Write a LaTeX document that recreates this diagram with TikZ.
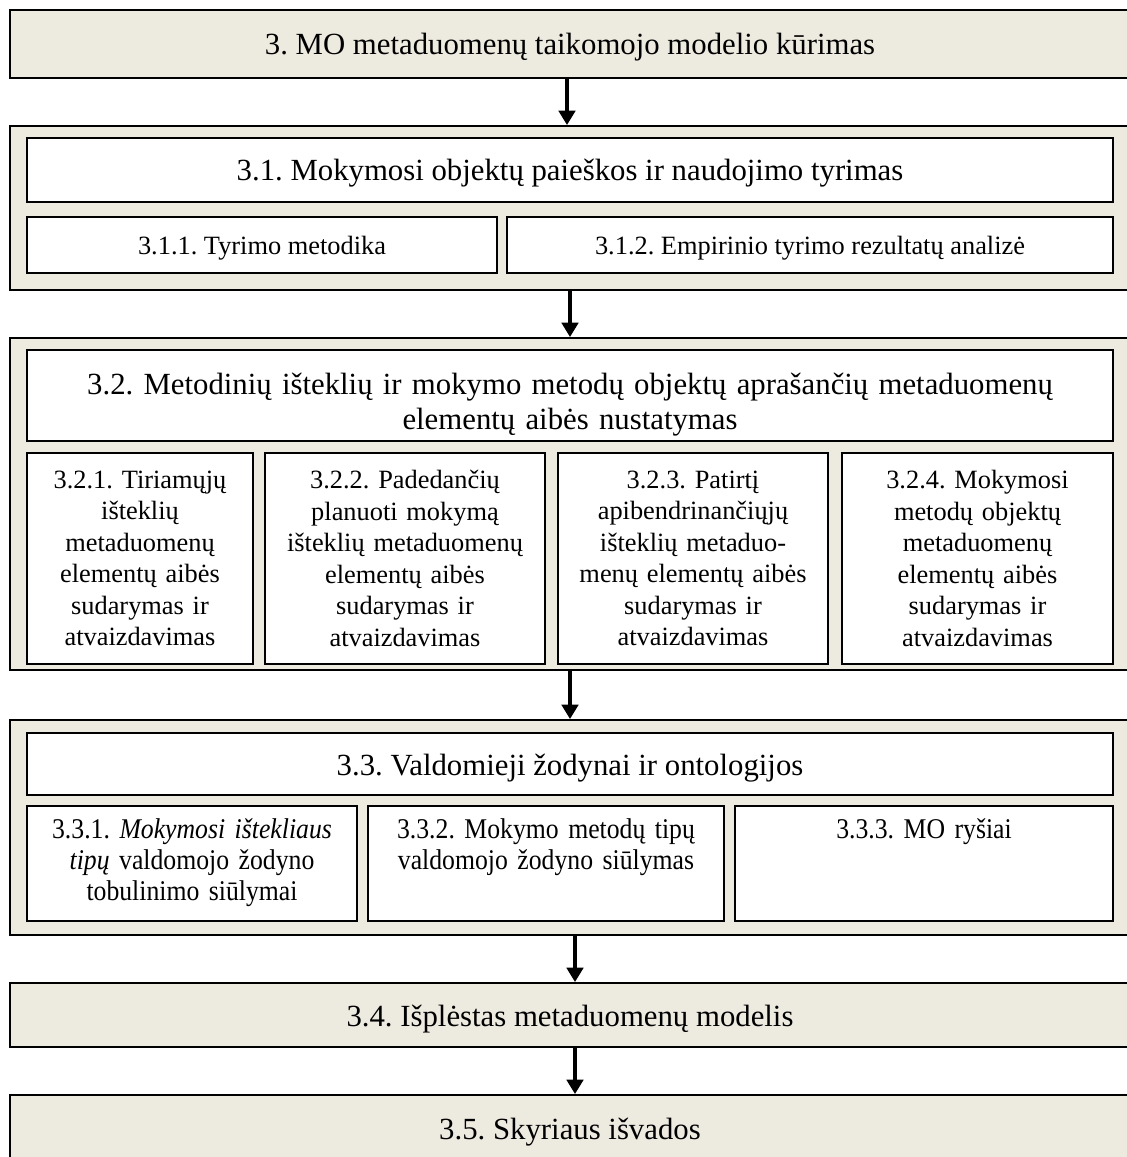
\documentclass[tikz,border=0pt]{standalone}
\usepackage{fontspec}
\setmainfont{Liberation Serif}
\newfontfamily\narrowfont[FakeStretch=0.9]{Liberation Serif}
\usetikzlibrary{arrows.meta}
\frenchspacing

\definecolor{boxbeige}{RGB}{237,234,224}
\newlength{\pxu}
\setlength{\pxu}{0.455pt}

\tikzset{
  big/.style={font=\fontsize{14}{16}\selectfont},
  bigline/.style={big,text height=11pt,text depth=1pt},
  small/.style={font=\fontsize{12}{14.3}\selectfont},
  smallline/.style={small,text height=9pt,text depth=0.8pt},
  narrow/.style={font=\fontsize{13}{14.3}\selectfont\narrowfont},
}

\begin{document}
\begin{tikzpicture}[x=0.455pt,y=-0.455pt]
      \useasboundingbox (0,0) rectangle (1126,1157);

      \begin{scope}[every node/.style={draw,fill=boxbeige,line width=0.9pt,inner sep=0pt,minimum width=1120\pxu}]
        \node[bigline,minimum height=68\pxu] (3)   at (570,44)     {3. MO metaduomenų taikomojo modelio kūrimas};
        \node[minimum height=164\pxu]        (g31) at (570,208)    {};
        \node[minimum height=332\pxu]        (g32) at (570,504)    {};
        \node[minimum height=215\pxu]        (g33) at (570,827.5)  {};
        \node[bigline,minimum height=64\pxu] (34)  at (570,1015)   {3.4. Išplėstas metaduomenų modelis};
        \node[bigline,minimum height=67\pxu] (35)  at (570,1128.5) {3.5. Skyriaus išvados};
      \end{scope}

      \begin{scope}[every node/.style={draw,fill=white,line width=0.9pt,inner sep=0pt,align=center}]
        \node[bigline,minimum width=1086\pxu,minimum height=64\pxu] (31) at (570,170) {3.1. Mokymosi objektų paieškos ir naudojimo tyrimas};
        \node[smallline,minimum width=470\pxu,minimum height=56\pxu] (311) at (262,245) {3.1.1. Tyrimo metodika};
        \node[smallline,minimum width=606\pxu,minimum height=56\pxu] (312) at (810,245) {3.1.2. Empirinio tyrimo rezultatų analizė};

        \node[big,minimum width=1086\pxu,text width=1060\pxu,text height=44\pxu,text depth=47\pxu] (32) at (570,395.5)
          {3.2. Metodinių išteklių ir mokymo metodų objektų aprašančių metaduomenų\\ elementų aibės nustatymas};
        \node[small,minimum width=226\pxu,minimum height=211\pxu,text width=214\pxu] (321) at (140,558.5)
          {3.2.1. Tiriamųjų\\ išteklių\\ metaduomenų\\ elementų aibės\\ sudarymas ir\\ atvaizdavimas};
        \node[small,minimum width=280\pxu,minimum height=211\pxu,text width=268\pxu] (322) at (405,558.5)
          {3.2.2. Padedančių\\ planuoti mokymą\\ išteklių metaduomenų\\ elementų aibės\\ sudarymas ir\\ atvaizdavimas};
        \node[small,minimum width=270\pxu,minimum height=211\pxu,text width=258\pxu] (323) at (693,558.5)
          {3.2.3. Patirtį\\ apibendrinančiųjų\\ išteklių metaduo-\\ menų elementų aibės\\ sudarymas ir\\ atvaizdavimas};
        \node[small,minimum width=271\pxu,minimum height=211\pxu,text width=259\pxu] (324) at (977.5,558.5)
          {3.2.4. Mokymosi\\ metodų objektų\\ metaduomenų\\ elementų aibės\\ sudarymas ir\\ atvaizdavimas};

        \node[bigline,minimum width=1086\pxu,minimum height=62\pxu] (33) at (570,764) {3.3. Valdomieji žodynai ir ontologijos};
        \node[narrow,minimum width=330\pxu,text width=318\pxu,text height=32\pxu,text depth=83\pxu] (331) at (192,863.5)
          {3.3.1. \textit{Mokymosi ištekliaus}\\ \textit{tipų} valdomojo žodyno\\ tobulinimo siūlymai};
        \node[narrow,minimum width=356\pxu,text width=344\pxu,text height=32\pxu,text depth=83\pxu] (332) at (546,863.5)
          {3.3.2. Mokymo metodų tipų\\ valdomojo žodyno siūlymas};
        \node[narrow,minimum width=378\pxu,text width=366\pxu,text height=32\pxu,text depth=83\pxu] (333) at (924,863.5)
          {3.3.3. MO ryšiai};
      \end{scope}

      \begin{scope}[every edge/.style={draw,line width=1.4pt,-{Triangle[width=7.5pt,length=6.5pt]}}]
        \path ([xshift=-3\pxu]3.south)   edge ([xshift=-3\pxu]g31.north);
        \path (g31) edge (g32);
        \path (g32) edge (g33);
        \path ([xshift=5\pxu]g33.south)  edge ([xshift=5\pxu]34.north);
        \path ([xshift=5\pxu]34.south)   edge ([xshift=5\pxu]35.north);
      \end{scope}

    \end{tikzpicture}
\end{document}
